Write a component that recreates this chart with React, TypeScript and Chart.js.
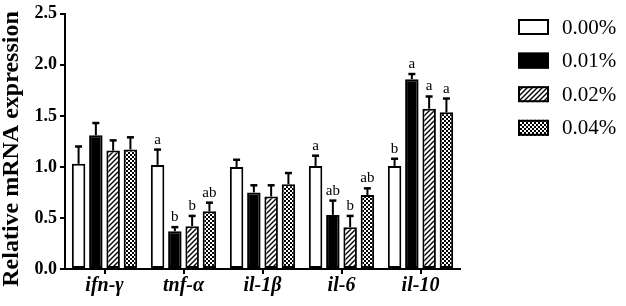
import React, { useEffect, useRef } from "react";
import { Chart, registerables } from "chart.js";

Chart.register(...registerables);

const categories = ["ifn-γ", "tnf-α", "il-1β", "il-6", "il-10"];
const seriesLabels = ["0.00%", "0.01%", "0.02%", "0.04%"];

const v000 = [1.03, 1.02, 1.0, 1.01, 1.01];
const v001 = [1.31, 0.37, 0.75, 0.53, 1.86];
const v002 = [1.16, 0.42, 0.71, 0.41, 1.57];
const v004 = [1.17, 0.565, 0.83, 0.725, 1.535];

const e000 = [0.17, 0.15, 0.07, 0.1, 0.07];
const e001 = [0.12, 0.04, 0.07, 0.14, 0.05];
const e002 = [0.1, 0.1, 0.11, 0.11, 0.12];
const e004 = [0.12, 0.085, 0.11, 0.065, 0.135];

const l000 = ["", "a", "", "a", "b"];
const l001 = ["", "b", "", "ab", "a"];
const l002 = ["", "b", "", "b", "a"];
const l004 = ["", "ab", "", "ab", "a"];

const yTicks = [0, 0.5, 1.0, 1.5, 2.0, 2.5];

const SERIF = "'Liberation Serif', 'DejaVu Serif', serif";

function makeHatch(ctx: CanvasRenderingContext2D) {
  const c = document.createElement("canvas");
  c.width = 5;
  c.height = 5;
  const g = c.getContext("2d")!;
  g.fillStyle = "#fff";
  g.fillRect(0, 0, 5, 5);
  g.strokeStyle = "#000";
  g.lineWidth = 1.4;
  g.beginPath();
  g.moveTo(-1, 6);
  g.lineTo(6, -1);
  g.moveTo(-1, 1);
  g.lineTo(1, -1);
  g.moveTo(4, 6);
  g.lineTo(6, 4);
  g.stroke();
  return ctx.createPattern(c, "repeat")!;
}

function makeChecker(ctx: CanvasRenderingContext2D) {
  const c = document.createElement("canvas");
  c.width = 4;
  c.height = 4;
  const g = c.getContext("2d")!;
  g.fillStyle = "#fff";
  g.fillRect(0, 0, 4, 4);
  g.fillStyle = "#000";
  g.fillRect(0, 0, 2, 2);
  g.fillRect(2, 2, 2, 2);
  return ctx.createPattern(c, "repeat")!;
}

export default function App() {
  const ref = useRef<HTMLCanvasElement | null>(null);

  useEffect(() => {
    const canvas = ref.current!;
    const ctx = canvas.getContext("2d")!;
    const fills: (string | CanvasPattern)[] = ["#ffffff", "#000000", makeHatch(ctx), makeChecker(ctx)];
    const values = [v000, v001, v002, v004];
    const errors = [e000, e001, e002, e004];
    const letters = [l000, l001, l002, l004];

    const overlay = {
      id: "overlay",
      afterDatasetsDraw(chart: any) {
        const c = chart.ctx as CanvasRenderingContext2D;
        const ys = chart.scales.y;
        c.save();
        c.strokeStyle = "#000";
        c.fillStyle = "#000";
        chart.data.datasets.forEach((ds: any, di: number) => {
          const meta = chart.getDatasetMeta(di);
          meta.data.forEach((bar: any, i: number) => {
            const top = ys.getPixelForValue(values[di][i] + errors[di][i]);
            const x = bar.x;
            c.lineWidth = 2;
            c.beginPath();
            c.moveTo(x, bar.y);
            c.lineTo(x, top);
            c.stroke();
            c.lineWidth = 2.5;
            c.beginPath();
            c.moveTo(x - 3.5, top);
            c.lineTo(x + 3.5, top);
            c.stroke();
            const lab = letters[di][i];
            if (lab) {
              c.font = `15px ${SERIF}`;
              c.textAlign = "center";
              c.textBaseline = "alphabetic";
              c.fillText(lab, x, top - 6);
            }
          });
        });
        // legend
        const lx = 518;
        const ly0 = 27;
        const step = 33.6;
        chart.data.datasets.forEach((ds: any, di: number) => {
          const cy = ly0 + di * step;
          c.fillStyle = fills[di] as any;
          c.fillRect(lx, cy - 8, 31, 16);
          c.lineWidth = 2;
          c.strokeStyle = "#000";
          c.strokeRect(lx + 1, cy - 7, 29, 14);
          c.fillStyle = "#000";
          c.font = `21px ${SERIF}`;
          c.textAlign = "left";
          c.textBaseline = "middle";
          c.fillText(ds.label, 562, cy + 1);
        });
        // y title
        c.translate(12, 149);
        c.rotate(-Math.PI / 2);
        c.font = `bold 24px ${SERIF}`;
        c.textAlign = "center";
        c.textBaseline = "middle";
        c.fillStyle = "#000";
        c.fillText("Relative mRNA expression", 0, 0);
        c.restore();
      },
    };

    const chart = new Chart(canvas, {
      type: "bar",
      data: {
        labels: categories,
        datasets: seriesLabels.map((label, di) => ({
          label,
          data: values[di],
          backgroundColor: fills[di] as any,
          borderColor: "#000",
          borderWidth: 2,
          borderSkipped: false,
          categoryPercentage: 0.875,
          barPercentage: 0.78,
        })),
      },
      options: {
        responsive: false,
        animation: false,
        devicePixelRatio: 1,
        layout: { padding: { top: 8, right: 166, left: 0, bottom: 0 } },
        plugins: { legend: { display: false }, tooltip: { enabled: false } },
        scales: {
          x: {
            grid: {
              display: true,
              drawOnChartArea: false,
              drawTicks: true,
              tickLength: 5,
              color: "#000",
              lineWidth: 2,
              offset: false,
            },
            border: { color: "#000", width: 2 },
            ticks: {
              color: "#000",
              padding: 0,
              font: { family: SERIF, size: 20, weight: "bold", style: "italic" },
            },
            afterFit(scale: any) {
              scale.height = 37;
            },
          },
          y: {
            min: 0,
            max: 2.5,
            grid: {
              display: true,
              drawOnChartArea: false,
              drawTicks: true,
              tickLength: 5,
              color: "#000",
              lineWidth: 2,
            },
            border: { color: "#000", width: 2 },
            afterBuildTicks(scale: any) {
              scale.ticks = yTicks.map((v) => ({ value: v }));
            },
            ticks: {
              color: "#000",
              padding: 3,
              font: { family: SERIF, size: 18, weight: "bold" },
              callback: (v: any) => Number(v).toFixed(1),
            },
            afterFit(scale: any) {
              scale.width = 65;
            },
          },
        },
      },
      plugins: [overlay],
    });
    return () => chart.destroy();
  }, []);

  return (
    <div style={{ position: "fixed", left: 0, top: 0, width: 626, height: 306, background: "#fff" }}>
      <canvas ref={ref} width={626} height={306} style={{ display: "block" }} />
    </div>
  );
}
